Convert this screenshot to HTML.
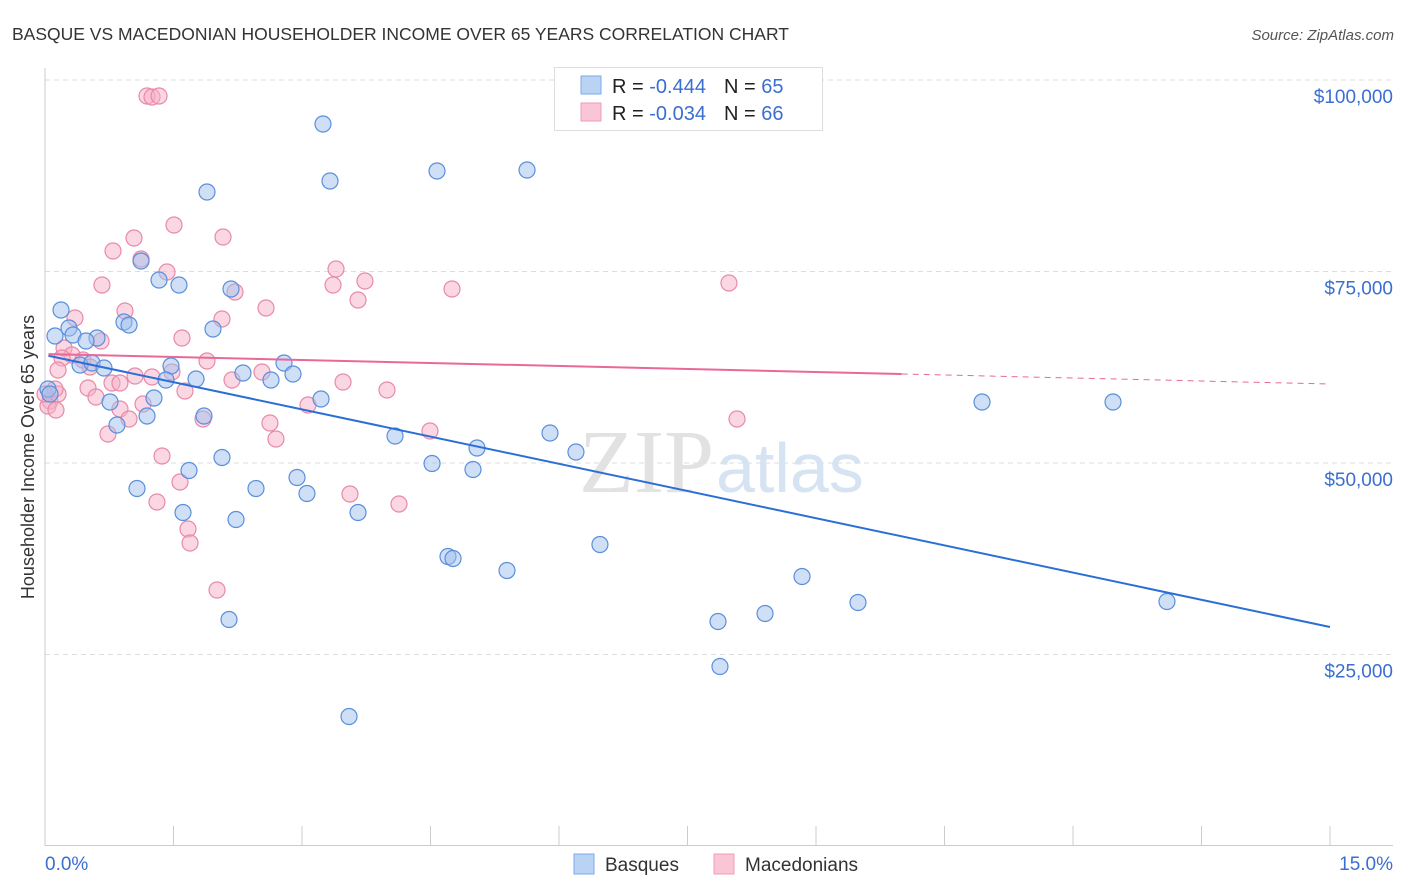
<!DOCTYPE html>
<html><head><meta charset="utf-8"><style>
body{margin:0;background:#fff;font-family:"Liberation Sans",sans-serif;}
svg{display:block}
</style></head><body>
<svg id="chart" width="1406" height="892">
<text x="12" y="40" font-size="17.5" fill="#333">BASQUE VS MACEDONIAN HOUSEHOLDER INCOME OVER 65 YEARS CORRELATION CHART</text>
<text x="1394" y="40" font-size="15" fill="#555" font-style="italic" text-anchor="end">Source: ZipAtlas.com</text>
<g id="grid"></g>
<text x="714" y="492" font-size="90" fill="#e2e2e2" text-anchor="end" font-family="Liberation Serif,serif">ZIP</text>
<text x="716" y="492" font-size="70" fill="#d6e3f3">atlas</text>
<g id="axes"></g>
<g id="points"></g>
<g id="trends"></g>
<text transform="translate(34,457) rotate(-90)" font-size="18" fill="#333" text-anchor="middle">Householder Income Over 65 years</text>
<g>
<rect x="554.5" y="67.5" width="268" height="63" fill="#fff" stroke="#ddd"/>
<rect x="581" y="76" width="20" height="18" fill="#b9d3f5" stroke="#7fa9e6"/>
<rect x="581" y="103" width="20" height="18" fill="#fac5d5" stroke="#ef9fb8"/>
<text x="612" y="93" font-size="20" fill="#222">R = <tspan fill="#3a6fd0">-0.444</tspan><tspan dx="18">N = </tspan><tspan fill="#3a6fd0">65</tspan></text>
<text x="612" y="120" font-size="20" fill="#222">R = <tspan fill="#3a6fd0">-0.034</tspan><tspan dx="18">N = </tspan><tspan fill="#3a6fd0">66</tspan></text>
</g>
<g>
<rect x="574" y="854" width="20" height="20" fill="#b9d3f5" stroke="#7fa9e6"/>
<text x="605" y="871" font-size="19" fill="#333">Basques</text>
<rect x="714" y="854" width="20" height="20" fill="#fac5d5" stroke="#ef9fb8"/>
<text x="745" y="871" font-size="19" fill="#333">Macedonians</text>
</g>
</svg>
<script>
const yTicks=[25000,50000,75000,100000];
const yTickLabels=["$25,000","$50,000","$75,000","$100,000"];
const xTickLabels=["0.0%","15.0%"];
const basqueX=[3.245,3.327,4.576,5.627,1.891,1.121,1.331,1.564,2.171,0.187,0.28,0.117,0.327,0.922,0.981,0.607,0.479,1.961,0.409,0.549,0.689,1.471,2.79,2.895,2.311,2.638,1.412,1.763,0.759,1.272,3.222,1.191,0.84,1.856,4.086,5.895,6.198,5.043,4.518,2.066,1.681,2.942,4.996,3.058,1.074,2.463,1.611,3.654,2.23,4.704,4.763,5.393,6.478,8.837,9.49,7.856,8.405,13.097,7.879,3.549,2.148,10.938,12.467,0.035,0.058];
const basqueY=[94257,86815,88120,88251,85379,76371,73890,73237,72715,69974,67624,66580,66710,68406,68015,66319,65927,67493,62793,63054,62401,62662,63054,61618,61749,60835,60835,60966,57963,58486,58355,56136,54961,56136,53525,53916,51436,51958,49935,50718,49021,48107,49151,46018,46671,46671,43538,43538,42624,37794,37533,35966,39360,35183,31788,29308,30352,31919,23433,16906,29569,57963,57963,59661,59008];
const macX=[1.191,1.249,1.331,1.506,2.078,1.039,0.794,1.121,1.424,3.397,3.735,3.362,0.665,4.751,7.984,2.218,3.654,2.58,0.934,2.066,0.35,1.599,0.654,0.222,0.315,0.444,1.891,0.198,0.525,1.051,1.249,1.482,2.183,2.533,3.479,3.992,0.502,0.595,0.782,1.634,0.152,1.144,3.07,0.058,0.035,0.875,1.844,2.626,0.981,0.735,4.494,8.078,2.696,1.366,1.576,3.56,4.132,1.307,1.669,1.693,2.008,0.152,0.117,0.0,0.875,0.128];
const macY=[97911,97781,97911,81070,79504,79373,77676,76632,74934,75326,73759,73237,73237,72715,73498,72323,71278,70234,69843,68797,68928,66319,65927,65014,64101,63448,63318,63709,62532,61358,61227,61880,60835,61880,60574,59530,59791,58616,60444,59399,62140,57702,57572,58094,57440,57048,55744,55222,55744,53786,54177,55744,53133,50913,47518,45951,44646,44908,41384,39556,33420,59008,59661,59008,60444,56919];
const basqueTrend=[64100,28590];
const macTrend=[64230,60313];
const NS="http://www.w3.org/2000/svg";
const X0=45,XW=1285,Y100=80,YPX=191.5;
const xs=v=>X0+v/15*XW;
const ys=v=>Y100+(100000-v)/25000*YPX;
function mk(tag,attrs,parent){const e=document.createElementNS(NS,tag);for(const k in attrs)e.setAttribute(k,attrs[k]);parent.appendChild(e);return e;}
const grid=document.getElementById('grid'),axes=document.getElementById('axes'),pts=document.getElementById('points'),tr=document.getElementById('trends');
yTicks.forEach((t,i)=>{
 const l=mk('line',{x1:45,x2:1393,y1:ys(t),y2:ys(t),stroke:'#ddd','stroke-dasharray':'5,4'},grid);
 
 
 const tx=mk('text',{x:1393,y:ys(t)+23,'font-size':19,fill:'#3a6fd0','text-anchor':'end'},axes);
 tx.textContent=yTickLabels[i];
 
 
});
mk('line',{x1:45,x2:45,y1:68,y2:846,stroke:'#ccc'},axes);
mk('line',{x1:45,x2:1393,y1:845.5,y2:845.5,stroke:'#ccc'},axes);
for(let i=0;i<=10;i++){mk('line',{x1:xs(i*1.5),x2:xs(i*1.5),y1:826,y2:846,stroke:'#ccc'},axes);}
[[0,'start',45],[15,'end',1393]].forEach((a,i)=>{const t=mk('text',{x:a[2],y:870,'font-size':19,fill:'#3a6fd0','text-anchor':a[1]},axes);t.textContent=xTickLabels[i];
 
 });
function drawPts(X,Y,fill,stroke,name){X.forEach((x,i)=>{const c=mk('circle',{cx:xs(x),cy:ys(Y[i]),r:8,fill:fill,'fill-opacity':0.5,stroke:stroke,'stroke-width':1.2},pts);
 
 });}
drawPts(macX,macY,'#f6b0c6','#e88aa8','macedonian-point');
drawPts(basqueX,basqueY,'#9ec0ee','#5b8fdc','basque-point');
const lin=(t,x)=>t[0]+(t[1]-t[0])*x/15;
let l=mk('line',{x1:xs(0.04),y1:ys(lin(basqueTrend,0.04)),x2:xs(15),y2:ys(lin(basqueTrend,15)),stroke:'#2a6fd6','stroke-width':2},tr);


l=mk('line',{x1:xs(0.04),y1:ys(lin(macTrend,0.04)),x2:xs(10),y2:ys(lin(macTrend,10)),stroke:'#e8689a','stroke-width':2},tr);


l=mk('line',{x1:xs(10),y1:ys(lin(macTrend,10)),x2:xs(15),y2:ys(lin(macTrend,15)),stroke:'#e8689a','stroke-width':1,'stroke-dasharray':'6,5'},tr);


</script>
</body></html>
